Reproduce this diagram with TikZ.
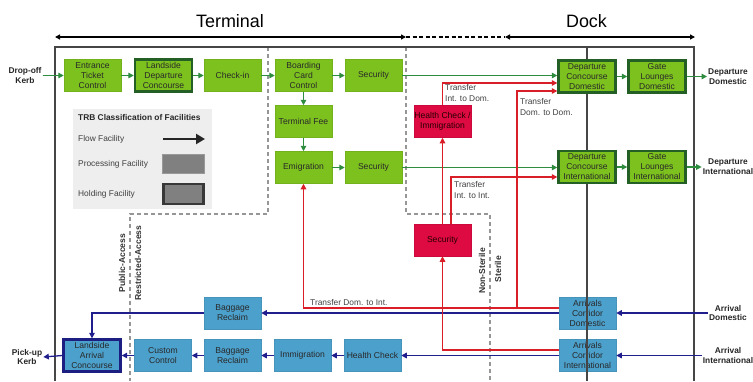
\documentclass[tikz,border=0pt]{standalone}
\usepackage{fontspec}
\setmainfont{Liberation Sans}
\usetikzlibrary{arrows.meta,calc}

\definecolor{procgreen}{RGB}{125,193,31}
\definecolor{holdgreen}{RGB}{36,96,38}
\definecolor{flowgreen}{RGB}{46,140,62}
\definecolor{procblue}{RGB}{76,160,204}
\definecolor{holdnavy}{RGB}{28,30,130}
\definecolor{flownavy}{RGB}{32,30,140}
\definecolor{procred}{RGB}{222,10,66}
\definecolor{flowred}{RGB}{218,30,40}
\definecolor{legendbg}{RGB}{238,238,238}
\definecolor{zonegray}{RGB}{150,150,150}
\definecolor{framegray}{RGB}{70,70,70}
\definecolor{boxtext}{RGB}{40,40,40}

\tikzset{
  box/.style={rectangle, minimum width=57bp, minimum height=32bp, inner sep=0pt,
    align=center, font=\fontsize{8.6}{10}\selectfont, text=boxtext},
  proc/.style={box, fill=procgreen, draw=procgreen!92!black, line width=0.5bp},
  hold/.style={box, fill=procgreen, draw=holdgreen, line width=2.4bp},
  bproc/.style={box, fill=procblue, draw=procblue!92!black, line width=0.5bp},
  bhold/.style={box, fill=procblue, draw=holdnavy, line width=2.4bp},
  rproc/.style={box, fill=procred, draw=procred!92!black, line width=0.5bp, text=black!85!red},
  lbl/.style={align=center, inner sep=1bp, font=\fontsize{8.4}{10}\selectfont\bfseries, text=black!85},
  note/.style={align=left, inner sep=0pt, font=\fontsize{8.4}{11}\selectfont, text=black!75},
  zonelbl/.style={rotate=90, inner sep=0pt, font=\fontsize{8.6}{10}\selectfont\bfseries, text=black!80},
  legtext/.style={anchor=west, inner sep=0pt, font=\fontsize{8.4}{10}\selectfont, text=black!75},
  tip/.style={-{Triangle[length=5.5bp,width=5.5bp]}},
  gflow/.style={tip, draw=flowgreen, line width=1.3bp},
  rflow/.style={tip, draw=flowred, line width=1.2bp},
  bflow/.style={tip, draw=flownavy, line width=1.3bp},
  zone/.style={draw=zonegray, line width=1.2bp, dash pattern=on 4bp off 3bp},
  frameline/.style={draw=framegray, line width=1.2bp},
  hdr/.style={draw=black, line width=1.6bp},
}

\begin{document}
\begin{tikzpicture}[x=1bp,y=-1bp]
\useasboundingbox (0,0) rectangle (753,381);

% ---- headings ----
\node[font=\fontsize{18}{20}\selectfont] (term) at (230,21.5) {Terminal};
\node[font=\fontsize{18}{20}\selectfont] (dock) at (586.5,21.5) {Dock};
\coordinate (h0) at (55,37);
\coordinate (h1) at (406,37);
\coordinate (h2) at (505,37);
\coordinate (h3) at (695,37);
\draw[hdr,{Triangle[length=5bp,width=5bp]}-{Triangle[length=5bp,width=5bp]}] (h0) -- (h1);
\draw[hdr,dash pattern=on 4bp off 2.5bp] (h1) -- (h2);
\draw[hdr,{Triangle[length=5bp,width=5bp]}-{Triangle[length=5bp,width=5bp]}] (h2) -- (h3);

% ---- legend ----
\node[fill=legendbg, minimum width=139bp, minimum height=100bp, inner sep=0pt, anchor=north west] (legend) at (73,109) {};
\node[legtext, font=\fontsize{8.4}{10}\selectfont\bfseries, text=black!85] (legtitle) at (78,118) {TRB Classification of Facilities};
\node[legtext] (legflow) at (78,139) {Flow Facility};
\node[legtext] (legproc) at (78,164) {Processing Facility};
\node[legtext] (leghold) at (78,194) {Holding Facility};
\coordinate (lfa) at (163,139);
\coordinate (lfb) at (205,139);
\draw[black!85, line width=2.2bp, -{Triangle[length=9bp,width=10bp]}] (lfa) -- (lfb);
\node[fill=black!50, draw=black!40, line width=0.5bp, minimum width=42bp, minimum height=19bp, inner sep=0pt] (legprocbox) at (183.5,163.5) {};
\node[fill=black!50, draw=black!78, line width=2.6bp, minimum width=40bp, minimum height=20bp, inner sep=0pt] (legholdbox) at (183.5,194) {};

% ---- access / sterile zone boundaries ----
\draw[zone] (268,47) -- (268,214) -- (130,214) -- (130,381);
\draw[zone] (406,47) -- (406,214) -- (490,214) -- (490,381);
\node[zonelbl] (pub) at (122,263) {Public-Access};
\node[zonelbl] (res) at (138,263) {Restricted-Access};
\node[zonelbl] (nst) at (482,271) {Non-Sterile};
\node[zonelbl] (ste) at (498,269) {Sterile};

% ---- arrival facilities ----
\node[bproc] (br1) at (232.5,313) {Baggage\\Reclaim};
\node[bhold] (lac) at (92,355.5) {Landside\\Arrival\\Concourse};
\node[bproc] (cus) at (163,355.5) {Custom\\Control};
\node[bproc] (br2) at (232.5,355.5) {Baggage\\Reclaim};
\node[bproc] (imm) at (302.5,355.5) {Immigration};
\node[bproc] (hc) at (372.5,355.5) {Health Check};
\node[bproc] (acd) at (587.5,313) {Arrivals\\Corridor\\Domestic};
\node[bproc] (aci) at (587.5,355.5) {Arrivals\\Corridor\\International};

% ---- outer frame and dock wall ----
\draw[frameline] (55,381) -- (55,47) -- (694,47) -- (694,381);
\draw[frameline] (587,47) -- (587,381);

% ---- departure facilities ----
\node[proc] (etc) at (92.5,75.5) {Entrance\\Ticket\\Control};
\node[hold] (ldc) at (163.5,75.5) {Landside\\Departure\\Concourse};
\node[proc] (chk) at (232.5,75.5) {Check-in};
\node[proc] (bcc) at (303.5,75.5) {Boarding\\Card\\Control};
\node[proc] (sec1) at (373.5,75.5) {Security};
\node[hold] (dcd) at (587,76.5) {Departure\\Concourse\\Domestic};
\node[hold] (gld) at (657,76.5) {Gate\\Lounges\\Domestic};
\node[proc] (fee) at (303.5,121.5) {Terminal Fee};
\node[proc] (emi) at (303.5,167.5) {Emigration};
\node[proc] (sec2) at (373.5,167.5) {Security};
\node[hold] (dci) at (587,167) {Departure\\Concourse\\International};
\node[hold] (gli) at (657,167) {Gate\\Lounges\\International};

% ---- transfer facilities ----
\node[rproc] (hci) at (442.5,121.5) {Health Check /\\Immigration};
\node[rproc] (rsec) at (442.5,240) {Security};

% ---- kerbs and exits ----
\node[lbl] (dropoff) at (25,75.5) {Drop-off\\Kerb};
\node[lbl] (pickup) at (27,357) {Pick-up\\Kerb};
\node[lbl] (depd) at (728,77) {Departure\\Domestic};
\node[lbl] (depi) at (728,167) {Departure\\International};
\node[lbl] (arrd) at (728,313) {Arrival\\Domestic};
\node[lbl] (arri) at (728,355.5) {Arrival\\International};

% ---- departure flow ----
\draw[gflow] (dropoff.east) -- (etc.west);
\draw[gflow] (etc) -- (ldc);
\draw[gflow] (ldc) -- (chk);
\draw[gflow] (chk) -- (bcc);
\draw[gflow] (bcc) -- (sec1);
\draw[gflow] (sec1.east) -- (sec1.east -| dcd.west);
\draw[gflow] (bcc) -- (fee);
\draw[gflow] (fee) -- (emi);
\draw[gflow] (emi) -- (sec2);
\draw[gflow] (sec2.east) -- (sec2.east -| dci.west);
\draw[gflow] (dcd) -- (gld);
\draw[gflow] (gld.east) -- (gld.east -| depd.west);
\draw[gflow] (dci) -- (gli);
\draw[gflow] (gli.east) -- (gli.east -| depi.west);

% ---- arrival flow ----
\draw[bflow] (arrd.west) -- (acd.east);
\draw[bflow] (acd.west) -- (br1.east);
\draw[bflow] (br1.west) -| (lac.north);
\draw[bflow] (arri.west) -- (aci.east);
\draw[bflow] (aci.west) -- (hc.east);
\draw[bflow] (hc) -- (imm);
\draw[bflow] (imm) -- (br2);
\draw[bflow] (br2) -- (cus);
\draw[bflow] (cus) -- (lac);
\draw[bflow] (lac.west) -- (pickup.east);

% ---- transfer flows ----
\coordinate (acdout) at ($(acd.west)+(0,-5)$);
\coordinate (aciout) at ($(aci.west)+(0,-5.5)$);
\coordinate (ddsplit) at (517,308);
\coordinate (rsecout) at ($(rsec.north)+(8.5,0)$);
\draw[rflow] (acdout) -| (emi.south);
\draw[rflow] (ddsplit) |- ($(dcd.west)+(0,14.5)$);
\draw[rflow] (aciout) -| (rsec.south);
\draw[rflow] (rsec.north) -- (hci.south);
\draw[rflow] (hci.north) |- ($(dcd.west)+(0,6.5)$);
\draw[rflow] (rsecout) |- ($(dci.west)+(0,10)$);

\node[note, anchor=north west] (tid) at (445,84.5) {Transfer\\Int. to Dom.};
\node[note, anchor=north west] (tdd) at (520,98.5) {Transfer\\Dom. to Dom.};
\node[note, anchor=north west] (tii) at (454,181.5) {Transfer\\Int. to Int.};
\node[note, anchor=west] (tdi) at (310,302.5) {Transfer Dom. to Int.};
\end{tikzpicture}
\end{document}
